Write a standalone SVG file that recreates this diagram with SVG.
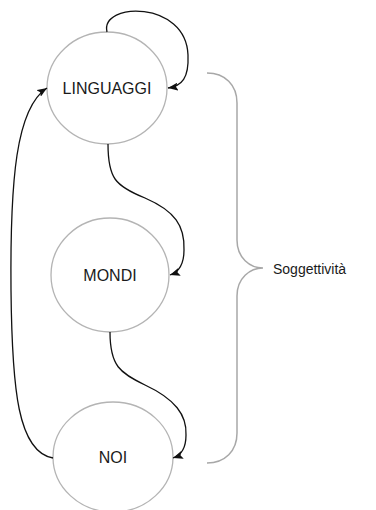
<svg xmlns="http://www.w3.org/2000/svg" width="376" height="510" viewBox="0 0 376 510">
  <style>
    .node { fill: #ffffff; stroke: #b4b4b4; stroke-width: 1.3; }
    .label { font-family: "Liberation Sans", Arial, sans-serif; font-size: 16px; fill: #1a1a1a; text-anchor: middle; }
    .edge { fill: none; stroke: #111111; stroke-width: 1.3; marker-end: url(#arrow); }
    .brace { fill: none; stroke: #a8a8a8; stroke-width: 1.5; }
    .side { font-family: "Liberation Sans", Arial, sans-serif; font-size: 14px; fill: #1a1a1a; }
  </style>
  <defs>
    <marker id="arrow" viewBox="0 0 10 8" refX="10" refY="4" markerWidth="10" markerHeight="8" markerUnits="userSpaceOnUse" orient="auto">
      <path d="M0,0 L10,4 L0,8 L2,4 Z" fill="#111111"/>
    </marker>
  </defs>
  <rect width="376" height="510" fill="#ffffff"/>

  <g id="linguaggi">
    <ellipse class="node" cx="107" cy="88" rx="60" ry="56"/>
    <text class="label" x="107" y="94">LINGUAGGI</text>
  </g>
  <g id="mondi">
    <ellipse class="node" cx="110" cy="275" rx="59" ry="57"/>
    <text class="label" x="110" y="281">MONDI</text>
  </g>
  <g id="noi">
    <ellipse class="node" cx="113" cy="457" rx="60" ry="55"/>
    <text class="label" x="113" y="463">NOI</text>
  </g>

  <g id="connectors">
    <path class="edge" d="M107,32 C100,2 186,0 188,55 C189,78 182,86 168,88"/>
    <path class="edge" d="M108,144 C108,178 115,186 145,198 C175,211 185,226 184,250 C184,265 179,272 170,275"/>
    <path class="edge" d="M110,332 C110,366 120,373 145,385 C175,399 187,415 186,435 C186,448 182,455 173,458"/>
    <path class="edge" d="M53,458 C18,452 12,390 11,290 C10,180 16,108 47,88"/>
  </g>

  <g id="soggettivita">
    <path class="brace" d="M207,73 C225,73 237,85 237,103 L237,240 C237,258 250,268 263,268 C250,268 237,278 237,296 L237,433 C237,451 225,463 207,463"/>
    <text class="side" x="273" y="274">Soggettività</text>
  </g>
</svg>
